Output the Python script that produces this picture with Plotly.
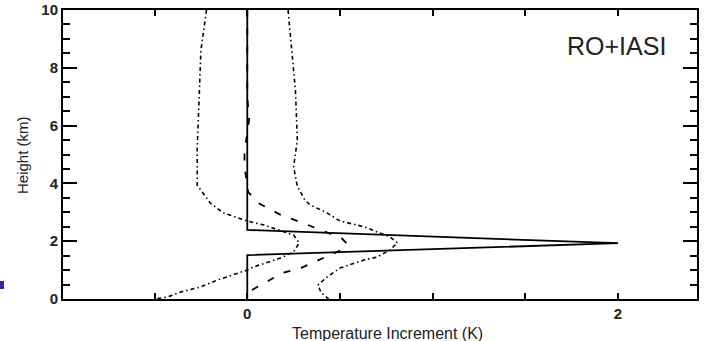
import plotly.graph_objects as go

# Height levels (km) and temperature increments (K) for each profile
inc_height = [10, 2.39, 1.93, 1.52, 0]
inc_temp = [0, 0, 2.0, 0, 0]

mean_height = [10, 7.0, 6.2, 5.1, 4.6, 3.7, 3.32, 2.91, 2.63, 2.39, 2.1, 1.93,
               1.76, 1.42, 1.1, 0.9, 0.55, 0.24, 0]
mean_temp = [0, 0, 0.01, -0.015, -0.015, 0.005, 0.06, 0.18, 0.30, 0.40, 0.51,
             0.535, 0.53, 0.41, 0.30, 0.19, 0.09, 0.005, 0]

low_height = [10, 8.6, 6.9, 5.2, 3.94, 3.77, 3.32, 2.98, 2.8, 2.7, 2.56, 2.21,
              1.94, 1.63, 1.42, 1.28, 1.1, 1.0, 0.83, 0.66, 0.42, 0.24, 0.07, 0]
low_temp = [-0.22, -0.25, -0.26, -0.27, -0.27, -0.25, -0.2, -0.13, -0.05, 0.0,
            0.09, 0.25, 0.28, 0.25, 0.18, 0.11, 0.03, 0.0, -0.08, -0.16, -0.25,
            -0.36, -0.43, -0.5]

high_height = [10, 8.6, 7.2, 5.5, 4.57, 3.9, 3.43, 3.25, 2.98, 2.7, 2.5, 2.32,
               2.15, 1.94, 1.7, 1.45, 1.35, 1.07, 0.76, 0.48, 0.21, 0]
high_temp = [0.22, 0.24, 0.26, 0.27, 0.25, 0.27, 0.31, 0.34, 0.43, 0.5, 0.63,
             0.7, 0.77, 0.81, 0.77, 0.7, 0.63, 0.5, 0.43, 0.38, 0.4, 0.44]

x_ticks = [-0.5, 0, 0.5, 1, 1.5, 2]
x_ticklabels = ["", "0", "", "", "", "2"]
y_ticks = [0, 2, 4, 6, 8, 10]

fig = go.Figure()

dashdot = "4px,3px,1.5px,3px"
fig.add_trace(go.Scatter(x=low_temp, y=low_height, mode="lines",
                         line=dict(color="black", width=1.6, dash=dashdot)))
fig.add_trace(go.Scatter(x=high_temp, y=high_height, mode="lines",
                         line=dict(color="black", width=1.6, dash=dashdot)))
fig.add_trace(go.Scatter(x=mean_temp, y=mean_height, mode="lines",
                         line=dict(color="black", width=1.8, dash="7px,11px")))
fig.add_trace(go.Scatter(x=inc_temp, y=inc_height, mode="lines",
                         line=dict(color="black", width=1.8)))

L, R, T, B = 63, 9, 10, 42
W, H = 706, 341
pw, ph = W - L - R, H - T - B


def px(x):
    return (x - L) / pw


def py(y):
    return (T + ph - y) / ph


tick_font = dict(size=15, color="#222", weight="bold")

fig.update_layout(
    width=W, height=H,
    margin=dict(l=L, r=R, t=T, b=B, pad=0, autoexpand=False),
    paper_bgcolor="white", plot_bgcolor="white",
    showlegend=False,
    font=dict(family="Liberation Sans, Arial, sans-serif", color="#222"),
    xaxis=dict(
        range=[-0.994, 2.426], tickvals=x_ticks, ticktext=x_ticklabels,
        ticks="inside", ticklen=6, tickwidth=1.5, tickcolor="black",
        showline=True, linecolor="black", linewidth=2, mirror="ticks",
        showgrid=False, zeroline=False, tickfont=tick_font, automargin=False,
    ),
    yaxis=dict(
        range=[0, 10], tickvals=y_ticks,
        ticks="inside", ticklen=14, tickwidth=2, tickcolor="black",
        minor=dict(dtick=0.5, ticks="inside", ticklen=7, tickwidth=1.5,
                   tickcolor="black"),
        showline=True, linecolor="black", linewidth=2, mirror="ticks",
        showgrid=False, zeroline=False, tickfont=tick_font, automargin=False,
    ),
    annotations=[
        dict(text="RO+IASI", x=px(616), y=py(46),
             xref="paper", yref="paper", xanchor="center", yanchor="middle",
             showarrow=False, font=dict(size=25, color="#222")),
        dict(text="Temperature Increment (K)", x=px(387), y=py(333),
             xref="paper", yref="paper", xanchor="center", yanchor="middle",
             showarrow=False, font=dict(size=16, color="#222")),
        dict(text="Height (km)", x=px(22), y=py(155),
             xref="paper", yref="paper", xanchor="center", yanchor="middle",
             showarrow=False, textangle=-90,
             font=dict(size=15, color="#222")),
    ],
    shapes=[
        dict(type="rect", xref="paper", yref="paper",
             x0=px(0), x1=px(4), y0=py(289), y1=py(281),
             fillcolor="#2a2aa8", line=dict(width=0)),
    ],
)

fig.write_html("out.html")
